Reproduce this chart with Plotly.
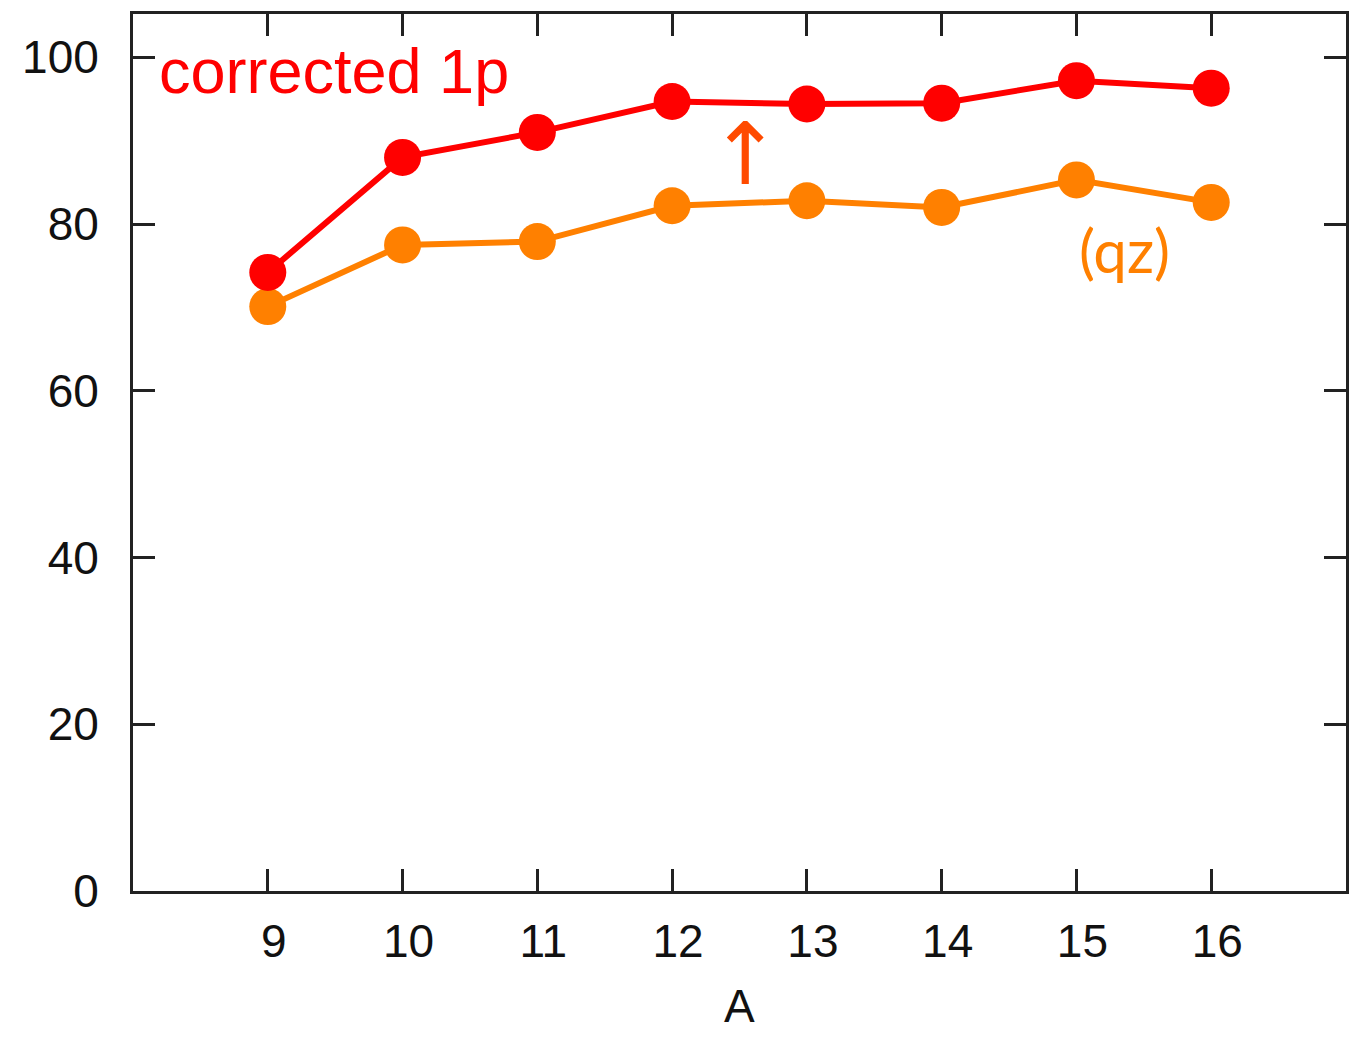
import plotly.graph_objects as go

# Mass number A and the two series (percent)
mass_numbers = [9, 10, 11, 12, 13, 14, 15, 16]
corrected_1p = [74.2, 88.0, 91.0, 94.7, 94.4, 94.5, 97.2, 96.3]
qz_values = [70.1, 77.5, 77.9, 82.2, 82.8, 82.0, 85.3, 82.6]

x_ticks = [9, 10, 11, 12, 13, 14, 15, 16]
y_ticks = [0, 20, 40, 60, 80, 100]

RED = "#ff0000"
ORANGE = "#ff8000"
ARROW = "#ff4a00"
FONT = "Liberation Sans"

fig = go.Figure()

fig.add_trace(go.Scatter(
    x=mass_numbers, y=qz_values, mode="lines+markers",
    line=dict(color=ORANGE, width=6),
    marker=dict(color=ORANGE, size=37),
    showlegend=False,
))
fig.add_trace(go.Scatter(
    x=mass_numbers, y=corrected_1p, mode="lines+markers",
    line=dict(color=RED, width=6),
    marker=dict(color=RED, size=37),
    showlegend=False,
))

axis_common = dict(
    showline=True, linecolor="#222222", linewidth=3, mirror="ticks",
    ticks="inside", ticklen=22, tickwidth=3, tickcolor="#222222",
    showgrid=False, zeroline=False, automargin=False,
    tickfont=dict(family=FONT, size=46, color="#111111"),
)

fig.update_xaxes(
    range=[8, 17], tickvals=x_ticks, ticktext=[str(v) for v in x_ticks],
    ticklabelstandoff=8, ticklabelshift=6,
    **axis_common,
)
fig.update_yaxes(
    range=[0, 105.2], tickvals=y_ticks, ticktext=[str(v) for v in y_ticks],
    ticklabelstandoff=22,
    **axis_common,
)

# x-axis title, placed below the tick labels
fig.add_annotation(
    x=0.5, y=-0.131, xref="paper", yref="paper", text="A",
    showarrow=False, xanchor="center", yanchor="middle",
    font=dict(family=FONT, size=46, color="#111111"),
)

fig.add_annotation(
    x=8.18, y=98.4, xref="x", yref="y", text="corrected 1p",
    showarrow=False, xanchor="left", yanchor="middle",
    font=dict(family=FONT, size=63, color=RED),
)
fig.add_annotation(
    x=15.36, y=76.9, xref="x", yref="y", text="(qz)",
    showarrow=False, xanchor="center", yanchor="middle",
    font=dict(family="Lato", size=60, color=ORANGE),
)
# Upward arrow marking the shift from (qz) to the corrected values
fig.add_annotation(
    x=12.54, y=88.4, xref="x", yref="y", text="↑",
    showarrow=False, xanchor="center", yanchor="middle",
    font=dict(family="DejaVu Sans", size=86, color=ARROW),
)

fig.update_layout(
    width=1351, height=1037,
    margin=dict(l=133, r=5, t=14, b=146),
    paper_bgcolor="white", plot_bgcolor="white",
)

fig.write_html("out.html")
